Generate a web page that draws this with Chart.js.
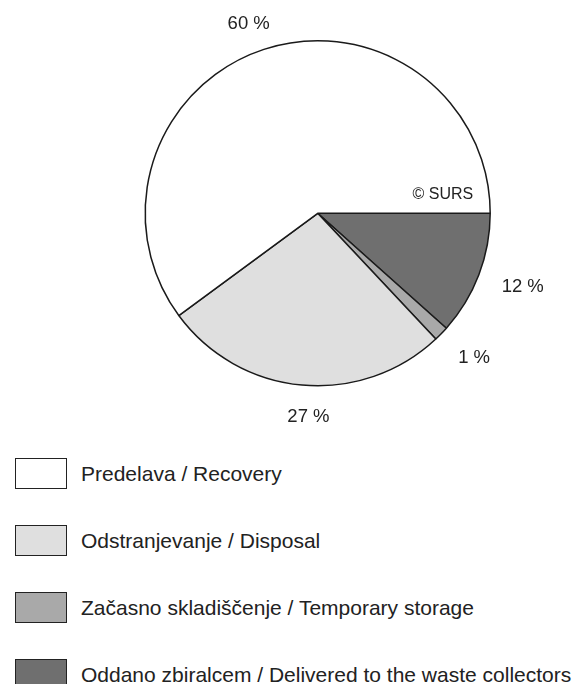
<!DOCTYPE html>
<html>
<head>
<meta charset="utf-8">
<script src="https://cdn.jsdelivr.net/npm/chart.js@4.4.1/dist/chart.umd.min.js"></script>
<style>
    body { margin: 0; background: #fff; width: 581px; height: 684px; overflow: hidden; position: relative; }
    #wrap { position: absolute; left: 0; top: 0; width: 581px; height: 440px; }
    #legend { position: absolute; left: 15px; top: 458px; font-family: "Liberation Sans", Arial, sans-serif; font-size: 21px; color: #222; }
    .row { display: flex; align-items: center; height: 31px; margin-bottom: 36px; white-space: nowrap; }
    .box { width: 52px; height: 31px; box-sizing: border-box; border: 1.5px solid #222; flex: none; }
    .row span { margin-left: 14px; }
</style>
</head>
<body>
<div id="wrap"><canvas id="pie" width="581" height="440"></canvas></div>
<div id="legend"></div>
<script>
document.addEventListener("DOMContentLoaded", () => {
    const labels = [
        "Predelava / Recovery",
        "Odstranjevanje / Disposal",
        "Začasno skladiščenje / Temporary storage",
        "Oddano zbiralcem / Delivered to the waste collectors"
    ];
    const values = [60.1, 26.9, 1.4, 11.6];
    const colors = ["#ffffff", "#dfdfdf", "#a9a9a9", "#6f6f6f"];

    const total = values.reduce((a, b) => a + b, 0);

    // krog teče v nasprotni smeri urinega kazalca, zato obrnemo vrstni red
    const pieLabels = labels.slice().reverse();
    const pieValues = values.slice().reverse();
    const pieColors = colors.slice().reverse();

    // oznake z odstotki zunaj kroga
    const pctLabels = {
        id: "pctLabels",
        afterDraw(chart) {
            const ctx = chart.ctx;
            const arcs = chart.getDatasetMeta(0).data;
            ctx.save();
            ctx.fillStyle = "#222";
            ctx.textBaseline = "middle";
            ctx.textAlign = "center";
            ctx.font = "18.5px 'Liberation Sans', Arial, sans-serif";
            const gap = 20;
            const shift = -2 * Math.PI / 180;
            arcs.forEach((arc, i) => {
                const { x, y, startAngle, endAngle, outerRadius } = arc.getProps(["x", "y", "startAngle", "endAngle", "outerRadius"], true);
                const a = (startAngle + endAngle) / 2 + shift;
                const text = Math.round(pieValues[i] / total * 100) + " %";
                const w = ctx.measureText(text).width;
                const h = 13;
                const c = Math.cos(a), s = Math.sin(a);
                const d = outerRadius + gap + Math.abs(c) * w / 2 + Math.abs(s) * h / 2;
                ctx.fillText(text, x + c * d + 2, y + s * d + 4);
            });
            // vir
            const first = arcs[0];
            ctx.font = "16px 'Liberation Sans', Arial, sans-serif";
            ctx.textAlign = "right";
            ctx.fillText("© SURS", first.x + first.outerRadius - 17, first.y - 19);
            ctx.restore();
        }
    };

    const ctx = document.getElementById("pie").getContext("2d");
    new Chart(ctx, {
        type: "pie",
        data: {
            labels: pieLabels,
            datasets: [{
                data: pieValues,
                backgroundColor: pieColors,
                borderColor: "#1a1a1a",
                borderWidth: 1.5,
                radius: 172.5
            }]
        },
        options: {
            responsive: false,
            animation: false,
            rotation: 90,
            layout: { padding: { left: 54.4, right: 0, top: 0, bottom: 13.4 } },
            plugins: {
                legend: { display: false },
                tooltip: { enabled: false }
            }
        },
        plugins: [pctLabels]
    });

    // legenda
    const legend = document.getElementById("legend");
    labels.forEach((label, i) => {
        const row = document.createElement("div");
        row.className = "row";
        const box = document.createElement("div");
        box.className = "box";
        box.style.background = colors[i];
        const txt = document.createElement("span");
        txt.textContent = label;
        row.appendChild(box);
        row.appendChild(txt);
        legend.appendChild(row);
    });
});
</script>
</body>
</html>
